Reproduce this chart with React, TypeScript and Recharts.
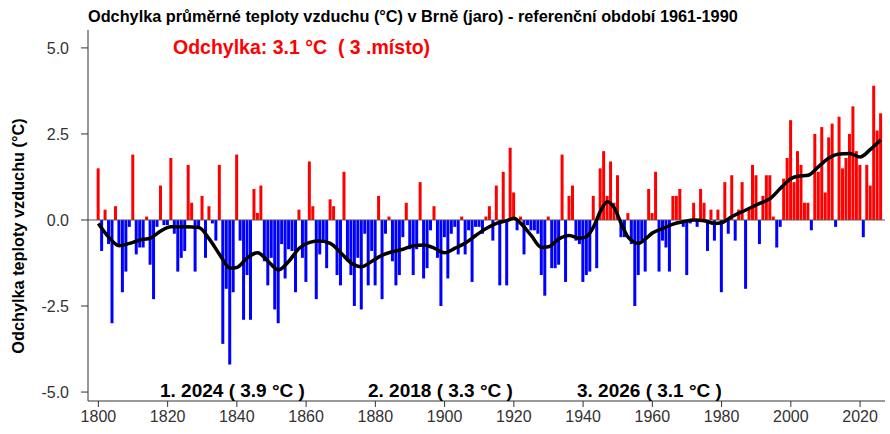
import { ComposedChart, Bar, Line, XAxis, YAxis, ReferenceLine, Cell } from "recharts";

const FIRST_YEAR = 1800;

// spring temperature anomaly in Brno, 1800-2026 (°C vs 1961-1990)
const anomalies = [
  1.5, -0.9, 0.3, -0.7, -3.0, 0.4, -0.7, -2.1, -1.5, -0.2,
  1.9, -1.0, -0.8, -0.8, 0.1, -1.3, -2.3, -0.2, 1.0, -0.15,
  -0.15, 1.8, -0.4, -1.5, -1.1, -0.9, 1.6, 0.5, -1.5, -0.2,
  0.7, -1.1, 0.4, -0.1, -0.6, 1.6, -3.6, -2.0, -4.2, -2.1,
  1.9, -0.6, -2.9, -1.6, -2.9, 0.9, 0.2, 1.0, -1.2, -1.9,
  -1.1, -2.6, -3.0, -0.7, -1.7, -0.85, -0.9, -2.1, 0.3, -1.1,
  -1.8, 1.7, 0.4, -2.3, -1.0, -0.6, -1.4, 0.6, 0.4, -1.6,
  -1.9, 1.4, -1.2, -1.6, -2.5, -1.1, -2.6, -0.4, -1.9, -0.9,
  -1.9, 0.7, -2.3, -0.4, 0.1, -1.2, -1.9, -1.6, -0.5, 0.5,
  -0.85, -1.6, -0.85, 1.1, -1.7, -1.4, -0.3, 0.4, -1.1, -2.5,
  -0.5, -1.7, -0.4, -0.2, -1.0, 0.1, -1.0, -0.3, -1.8, -0.2,
  -0.2, -0.4, 0.1, 0.4, -0.6, 1.0, -1.9, 1.4, -1.9, 2.1,
  0.8, -0.3, 0.1, -1.0, -0.15, -0.3, -0.3, -0.4, -1.6, -2.2,
  0.1, -1.4, -1.4, -1.3, 1.9, -1.8, 0.7, 1.0, -0.6, -0.7,
  -1.8, -1.6, -1.5, 0.7, -1.4, 1.5, 2.0, 0.7, 1.7, 0.5,
  1.3, -0.5, -0.5, 0.2, -0.7, -2.5, -1.6, -0.6, -1.5, 0.9,
  0.2, 1.4, -1.5, -0.6, -0.8, -1.5, 0.7, 0.7, 0.9, -0.2,
  -1.6, -0.1, 0.5, -0.2, 0.9, 0.5, -0.9, 0.3, -0.6, 0.3,
  -2.1, 1.1, -0.4, 1.3, -0.6, 0.3, 1.1, -2.0, 0.3, 1.6,
  1.3, -0.7, 0.7, 1.3, 1.3, 0.1, -0.8, -0.2, 1.2, 1.8,
  2.9, 1.1, 2.0, 1.6, 0.5, 0.5, -0.3, 2.5, 1.4, 2.7,
  0.8, 2.4, 2.8, -0.2, 3.0, 1.5, 1.8, 2.5, 3.3, 2.0,
  1.6, -0.5, 1.6, 1.0, 3.9, 2.6, 3.1,
];

// smoothed curve, read at these years
const smoothYears = [
  1800, 1803, 1806, 1809, 1812, 1815, 1818, 1821, 1825, 1829,
  1832, 1835, 1838, 1840, 1843, 1846, 1849, 1852, 1855, 1858,
  1861, 1864, 1867, 1870, 1873, 1876, 1879, 1882, 1885, 1888,
  1891, 1894, 1897, 1900, 1903, 1906, 1909, 1912, 1915, 1918,
  1920, 1922, 1925, 1928, 1930, 1933, 1936, 1939, 1941, 1943,
  1945, 1947, 1949, 1951, 1953, 1956, 1958, 1960, 1963, 1966,
  1969, 1972, 1975, 1978, 1980, 1983, 1987, 1991, 1994, 1997,
  2000, 2002, 2005, 2008, 2011, 2014, 2017, 2020, 2023, 2026,
];
const smoothValues = [
  -0.1, -0.5, -0.75, -0.68, -0.58, -0.53, -0.32, -0.2, -0.2, -0.22,
  -0.55, -1.0, -1.4, -1.38, -1.1, -0.95, -1.2, -1.45, -1.2, -0.82,
  -0.65, -0.61, -0.68, -0.95, -1.25, -1.36, -1.2, -1.02, -0.92, -0.85,
  -0.75, -0.73, -0.82, -0.95, -0.82, -0.67, -0.45, -0.25, -0.1, -0.02,
  0.05, -0.1, -0.45, -0.8, -0.78, -0.55, -0.45, -0.53, -0.48, -0.2,
  0.25, 0.53, 0.35, -0.1, -0.5, -0.68, -0.55, -0.38, -0.25, -0.12,
  -0.05, 0.0, -0.02, -0.1, -0.08, 0.1, 0.29, 0.48, 0.62, 0.92,
  1.2, 1.27, 1.3, 1.55, 1.8, 1.92, 1.93, 1.83, 2.05, 2.33,
];

const xTicks = [1800, 1820, 1840, 1860, 1880, 1900, 1920, 1940, 1960, 1980, 2000, 2020];
const yTicks = [-5, -2.5, 0, 2.5, 5];

const TITLE = "Odchylka průměrné teploty vzduchu (°C) v Brně (jaro) - referenční období 1961-1990";
const Y_LABEL = "Odchylka teploty vzduchu (°C)";
const CURRENT = "Odchylka: 3.1 °C  ( 3 .místo)";
const RANKS = ["1. 2024 ( 3.9 °C )", "2. 2018 ( 3.3 °C )", "3. 2026 ( 3.1 °C )"];

const rows = anomalies.map((v, i) => {
  const year = FIRST_YEAR + i;
  const k = smoothYears.indexOf(year);
  return { year, anomaly: v, smooth: k >= 0 ? smoothValues[k] : null };
});

const FONT = "'Liberation Sans', Arial, sans-serif";
const tickStyle = { fill: "#333", fontSize: 16, fontFamily: FONT };

export default function App() {
  return (
    <div
      style={{
        position: "absolute",
        left: 0,
        top: 0,
        width: 890,
        height: 434,
        background: "#fff",
        fontFamily: FONT,
      }}
    >
      <ComposedChart
        width={890}
        height={434}
        data={rows}
        margin={{ top: 30, right: 5, bottom: 0, left: 0 }}
      >
        <XAxis
          dataKey="year"
          type="number"
          domain={[1797, 2027.2]}
          ticks={xTicks}
          allowDataOverflow
          height={33}
          tickSize={6}
          tickMargin={4}
          tick={tickStyle}
          stroke="#333"
        />
        <XAxis xAxisId="top" orientation="top" type="number" domain={[1797, 2027.2]} tick={false} tickLine={false} height={0} stroke="#333" />
        <YAxis
          type="number"
          domain={[-5.26, 5.52]}
          ticks={yTicks}
          allowDataOverflow
          width={88}
          tickSize={7}
          tickMargin={12}
          tick={tickStyle}
          tickFormatter={(v: number) => v.toFixed(1)}
          stroke="#333"
        />
        <YAxis yAxisId="right" orientation="right" tick={false} tickLine={false} width={0} stroke="#333" />
        <ReferenceLine y={0} stroke="#555" strokeWidth={1} />
        <Bar dataKey="anomaly" barSize={3} isAnimationActive={false}>
          {rows.map((r) => (
            <Cell key={r.year} fill={r.anomaly >= 0 ? "#ff0000" : "#0000ff"} />
          ))}
        </Bar>
        <Line
          dataKey="smooth"
          type="monotone"
          connectNulls
          stroke="#000"
          strokeWidth={3.5}
          dot={false}
          isAnimationActive={false}
        />
      </ComposedChart>

      <div style={{ position: "absolute", left: 88, top: 7, fontSize: 16.3, fontWeight: 700, whiteSpace: "pre" }}>
        {TITLE}
      </div>
      <div
        style={{
          position: "absolute",
          left: 18,
          top: 236,
          transform: "translate(-50%, -50%) rotate(-90deg)",
          fontSize: 16.3,
          fontWeight: 700,
          whiteSpace: "pre",
        }}
      >
        {Y_LABEL}
      </div>
      <div style={{ position: "absolute", left: 173, top: 36, fontSize: 19.5, fontWeight: 700, color: "#ff0000", whiteSpace: "pre" }}>
        {CURRENT}
      </div>
      {RANKS.map((t, i) => (
        <div
          key={t}
          style={{ position: "absolute", left: [160, 368, 577][i], top: 380, fontSize: 19, fontWeight: 700, whiteSpace: "pre" }}
        >
          {t}
        </div>
      ))}
    </div>
  );
}
